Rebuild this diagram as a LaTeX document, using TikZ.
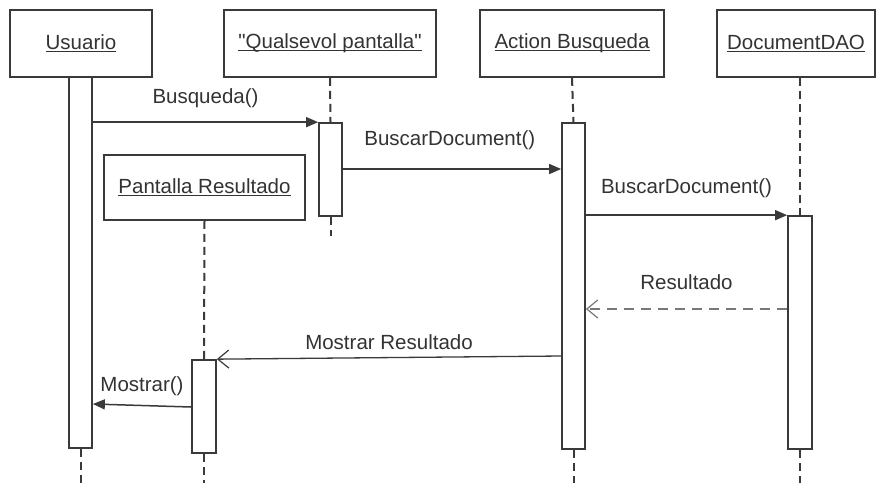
\documentclass[tikz,border=0pt]{standalone}
\usepackage{fontspec}
\setmainfont{Liberation Sans}
\usetikzlibrary{arrows.meta}
\definecolor{ink}{HTML}{333333}
\definecolor{rule}{HTML}{3A3A3A}
\definecolor{retgray}{HTML}{787878}
% same face, loaded without the TeX quote mapping, for straight quotes
\font\plainqfont="Liberation Sans" at 20.5pt
\newcommand{\dq}{{\plainqfont"}}
% underlined object names, rule close to the baseline
\newcommand{\objname}[1]{\setbox0\hbox{#1}\rlap{\rule[-2.6pt]{\wd0}{1.3pt}}\box0}
\begin{document}
\begin{tikzpicture}[x=1pt,y=-1pt,
  every node/.style={font=\fontsize{20.5}{24}\selectfont, text=ink},
  objbox/.style={draw=rule, line width=1.7pt, fill=white, minimum height=67pt, inner sep=0pt},
  actbar/.style={draw=rule, line width=1.7pt, fill=white, minimum width=23pt, inner sep=0pt},
  lifeline/.style={draw=rule, line width=2pt, dash pattern=on 8pt off 5pt},
  call/.style={draw=rule, line width=1.5pt, -{Triangle[length=12pt,width=10pt]}},
  reply/.style={draw=rule, line width=1.3pt, -{Straight Barb[length=11pt,width=18pt,line width=1.2pt]}},
  retmsg/.style={draw=retgray, line width=1.8pt, dash pattern=on 10pt off 7pt,
                 -{Straight Barb[length=11pt,width=18pt,line width=1.2pt]}},
  msglabel/.style={inner sep=1pt}]
\useasboundingbox (0,0) rectangle (877,483);
\fill[white] (0,0) rectangle (877,483);

% object boxes
\node[objbox, minimum width=142pt] (usr) at (81,43.5) {\objname{Usuario}};
\node[objbox, minimum width=212pt] (qp)  at (330,43.5) {\objname{\dq Qualsevol pantalla\dq}};
\node[objbox, minimum width=184pt] (ab)  at (572,43.5) {\objname{Action Busqueda}};
\node[objbox, minimum width=158pt] (dao) at (796,43.5) {\objname{DocumentDAO}};
\node[objbox, minimum width=201pt, minimum height=65pt] (pr) at (204.5,187.5) {\objname{Pantalla Resultado}};

% activation bars
\node[actbar, minimum height=371pt] (uact) at (80.5,262.5) {};
\node[actbar, minimum height=93pt]  (qact) at (330.5,169.5) {};
\node[actbar, minimum height=326pt] (aact) at (573.5,286) {};
\node[actbar, minimum width=24pt, minimum height=233pt] (dact) at (800,332.5) {};
\node[actbar, minimum width=24pt, minimum height=93pt]  (pact) at (204,406.5) {};

% lifeline ends
\coordinate (usrend) at (80.5,483);
\coordinate (qpend)  at (330.5,236);
\coordinate (abend)  at (573.5,483);
\coordinate (daoend) at (800,483);
\coordinate (prend)  at (204,483);

% dashed lifelines
\draw[lifeline] (uact.south) -- (usrend);
\draw[lifeline] (qp.south) -- (qact.north);
\draw[lifeline] (qact.south) -- (qpend);
\draw[lifeline] (ab.south) -- (aact.north);
\draw[lifeline] (aact.south) -- (abend);
\draw[lifeline] (dao.south -| dact.north) -- (dact.north);
\draw[lifeline] (dact.south) -- (daoend);
\draw[lifeline] (pr.south) -- (pact.north);
\draw[lifeline] (pact.south) -- (prend);

% messages
\draw[call] (uact.east |- qact.north) -- (qact.north west)
  node[msglabel, pos=0.5, above=13pt] {Busqueda()};
\draw[call] (qact.east |- 0,169) -- (aact.west |- 0,169)
  node[msglabel, pos=0.49, above=18pt] {BuscarDocument()};
\draw[call] (aact.east |- dact.north) -- (dact.north west)
  node[msglabel, pos=0.5, above=16pt] {BuscarDocument()};
\draw[retmsg] (dact.west |- 0,309) -- (aact.east |- 0,309)
  node[msglabel, pos=0.5, above=17pt] {Resultado};
\draw[reply] (aact.west |- 0,356) -- (pact.north east)
  node[msglabel, pos=0.5, above=6pt] {Mostrar Resultado};
\draw[call] (pact.west |- 0,407) -- (uact.east |- 0,404)
  node[msglabel, pos=0.5, above=8pt] {Mostrar()};
\end{tikzpicture}
\end{document}
